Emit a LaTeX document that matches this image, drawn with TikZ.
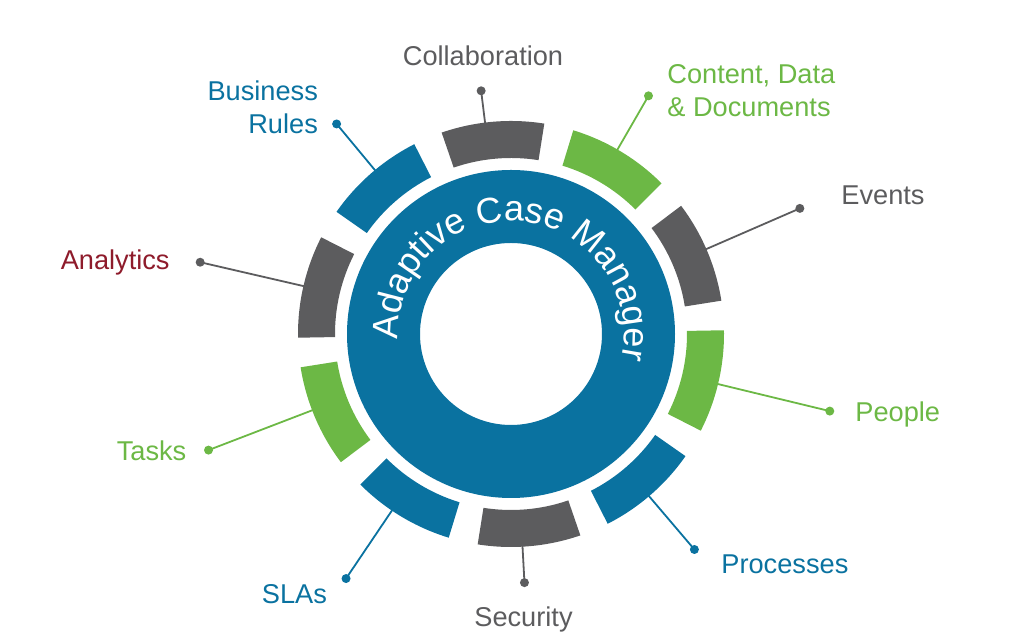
\documentclass[tikz,border=0pt]{standalone}
\usepackage{fontspec}
\setmainfont{Liberation Sans}
\usetikzlibrary{decorations.text}
\definecolor{acmblue}{HTML}{0A72A0}
\definecolor{acmgray}{HTML}{5C5C5E}
\definecolor{acmgreen}{HTML}{6CB845}
\definecolor{acmred}{HTML}{8E1B2B}
\tikzset{
  dot/.style={circle, fill=#1, inner sep=0pt, minimum size=4.5pt},
  link/.style={draw=#1, line width=0.9pt},
  lbl/.style={inner sep=0pt, text=#1, font=\fontsize{13.6}{16.5}\selectfont}
}
\begin{document}
\begin{tikzpicture}[x=0.5pt,y=0.5pt]
      \useasboundingbox (0,0) rectangle (1024,641);
      \begin{scope}[shift={(511,307)}]
        \fill[acmblue, even odd rule] (0,0) circle[radius=164] (0,0) circle[radius=91];
        \path[decorate, decoration={text along path, text align=center,
          text={|\fontsize{18}{20}\selectfont\color{white}|Adaptive Case Manager}}]
          (205:113) arc[start angle=205, end angle=-35, radius=113];
        % segments
        \fill[acmgray] (81:176) arc[start angle=81, end angle=109, radius=176] -- (109:213) arc[start angle=109, end angle=81, radius=213] -- cycle;
        \fill[acmgreen] (45:176) arc[start angle=45, end angle=73, radius=176] -- (73:213) arc[start angle=73, end angle=45, radius=213] -- cycle;
        \fill[acmgray] (9:176) arc[start angle=9, end angle=37, radius=176] -- (37:213) arc[start angle=37, end angle=9, radius=213] -- cycle;
        \fill[acmgreen] (-27:176) arc[start angle=-27, end angle=1, radius=176] -- (1:213) arc[start angle=1, end angle=-27, radius=213] -- cycle;
        \fill[acmblue] (-63:176) arc[start angle=-63, end angle=-35, radius=176] -- (-35:213) arc[start angle=-35, end angle=-63, radius=213] -- cycle;
        \fill[acmgray] (-99:176) arc[start angle=-99, end angle=-71, radius=176] -- (-71:213) arc[start angle=-71, end angle=-99, radius=213] -- cycle;
        \fill[acmblue] (-135:176) arc[start angle=-135, end angle=-107, radius=176] -- (-107:213) arc[start angle=-107, end angle=-135, radius=213] -- cycle;
        \fill[acmgreen] (-171:176) arc[start angle=-171, end angle=-143, radius=176] -- (-143:213) arc[start angle=-143, end angle=-171, radius=213] -- cycle;
        \fill[acmgray] (153:176) arc[start angle=153, end angle=181, radius=176] -- (181:213) arc[start angle=181, end angle=153, radius=213] -- cycle;
        \fill[acmblue] (117:176) arc[start angle=117, end angle=145, radius=176] -- (145:213) arc[start angle=145, end angle=117, radius=213] -- cycle;
        % ends of the connectors
        \coordinate (collab) at (97:212);
        \coordinate (content) at (60:212);
        \coordinate (events) at (23.5:212);
        \coordinate (people) at (-13.6:212);
        \coordinate (processes) at (-49.6:212);
        \coordinate (security) at (-86.9:212);
        \coordinate (slas) at (-124:212);
        \coordinate (tasks) at (-159:212);
        \coordinate (analytics) at (167:212);
        \coordinate (rules) at (129.7:212);
        \node[dot=acmgray] (collabdot) at (97:245) {};
        \node[dot=acmgreen] (contentdot) at (60:275) {};
        \node[dot=acmgray] (eventsdot) at (23.5:315) {};
        \node[dot=acmgreen] (peopledot) at (-13.6:328) {};
        \node[dot=acmblue] (processesdot) at (-49.6:283) {};
        \node[dot=acmgray] (securitydot) at (-86.9:249) {};
        \node[dot=acmblue] (slasdot) at (-124:295) {};
        \node[dot=acmgreen] (tasksdot) at (-159:324) {};
        \node[dot=acmgray] (analyticsdot) at (167:319) {};
        \node[dot=acmblue] (rulesdot) at (129.7:273) {};
        \draw[link=acmgray] (collab) -- (collabdot.center);
        \draw[link=acmgreen] (content) -- (contentdot.center);
        \draw[link=acmgray] (events) -- (eventsdot.center);
        \draw[link=acmgreen] (people) -- (peopledot.center);
        \draw[link=acmblue] (processes) -- (processesdot.center);
        \draw[link=acmgray] (security) -- (securitydot.center);
        \draw[link=acmblue] (slas) -- (slasdot.center);
        \draw[link=acmgreen] (tasks) -- (tasksdot.center);
        \draw[link=acmgray] (analytics) -- (analyticsdot.center);
        \draw[link=acmblue] (rules) -- (rulesdot.center);
      \end{scope}
      % labels
      \node[lbl=acmgray, anchor=base] (collablbl) at (483,575) {Collaboration};
      \node[lbl=acmgreen, anchor=base west, align=left] (contentlbl) at (667,524.3) {Content, Data\\\& Documents};
      \node[lbl=acmgray, anchor=base west] (eventslbl) at (841,436) {Events};
      \node[lbl=acmgreen, anchor=base west] (peoplelbl) at (855,219.3) {People};
      \node[lbl=acmblue, anchor=base west] (processeslbl) at (721,67.7) {Processes};
      \node[lbl=acmgray, anchor=base] (securitylbl) at (523.5,14.3) {Security};
      \node[lbl=acmblue, anchor=base east] (slaslbl) at (327.3,37) {SLAs};
      \node[lbl=acmgreen, anchor=base east] (taskslbl) at (186.7,180) {Tasks};
      \node[lbl=acmred, anchor=base east] (analyticslbl) at (170,371) {Analytics};
      \node[lbl=acmblue, anchor=base east, align=right] (ruleslbl) at (318.3,507) {Business\\Rules};
\end{tikzpicture}
\end{document}
